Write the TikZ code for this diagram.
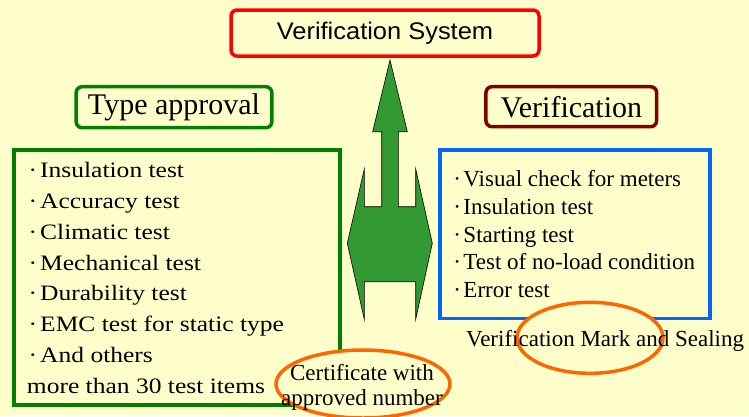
\documentclass[tikz,border=0pt]{standalone}
\usepackage{fontspec}
\setmainfont{Liberation Serif}
\newfontfamily\titlefont[FakeStretch=1.06]{Liberation Sans}
\newfontfamily\widefont[FakeStretch=1.16]{Liberation Serif}
\usetikzlibrary{shapes.geometric}
\definecolor{bg}{HTML}{FFFFCC}
\definecolor{tred}{HTML}{FF0000}
\definecolor{tgreen}{HTML}{008000}
\definecolor{tmaroon}{HTML}{800000}
\definecolor{tblue}{HTML}{0066FF}
\definecolor{torange}{HTML}{FF6600}
\definecolor{afill}{HTML}{339933}
\tikzset{
  headbox/.style={draw, line width=3.5pt, rounded corners=6pt, inner sep=0pt},
  bigbox/.style={draw, line width=3.3pt, inner sep=0pt},
  ring/.style={ellipse, draw=torange, fill=bg, line width=3.5pt, inner sep=0pt},
  litem/.style={anchor=base west, inner sep=0pt, font=\widefont\fontsize{22}{26}\selectfont},
  ritem/.style={anchor=base west, inner sep=0pt, font=\rmfamily\fontsize{23}{27}\selectfont},
  bigarrow/.style={fill=afill, draw=black, line width=0.6pt, line join=miter}
}
\begin{document}
\begin{tikzpicture}[x=1pt,y=-1pt]
\fill[bg] (0,0) rectangle (749,416);
\useasboundingbox (0,0) rectangle (749,416);

% header boxes
\node[headbox, draw=tred, minimum width=308pt, minimum height=46pt,
      font=\titlefont\fontsize{24}{28}\selectfont] (sys) at (385,33) {Verification System};
\node[headbox, draw=tgreen, minimum width=195.7pt, minimum height=41pt,
      font=\rmfamily\fontsize{30}{34}\selectfont] (ta) at (174,107.2) {Type approval};
\node[headbox, draw=tmaroon, minimum width=170.7pt, minimum height=40pt,
      font=\rmfamily\fontsize{30}{34}\selectfont] (ver) at (571.3,106.7) {Verification};

% big boxes
\node[bigbox, draw=tgreen, minimum width=326pt, minimum height=255pt] (lbox) at (177,277.5) {};
\node[bigbox, draw=tblue, minimum width=270pt, minimum height=168.3pt] (rbox) at (575,234.2) {};

% double arrow
\coordinate (tip) at (390,60);
\draw[bigarrow] (tip) -- (407.3,131.7) -- (398.3,131.7) -- (398.3,206.7) -- (415.7,206.7)
  -- (415.7,169) -- (432.3,243.3) -- (415.7,319.3) -- (415.7,281.7) -- (364.3,281.7)
  -- (364.3,319.3) -- (347.3,243.3) -- (364.3,169) -- (364.3,206.7) -- (381.7,206.7)
  -- (381.7,131.7) -- (372.7,131.7) -- cycle;

% ellipses
\node[ring, minimum width=174pt, minimum height=68pt] (certring) at (363,384) {};
\node[inner sep=0pt, align=center, font=\rmfamily\fontsize{23}{25}\selectfont]
      (cert) at (362,387.2) {Certificate with\\approved number};
\node[ring, minimum width=146pt, minimum height=71pt] (mark) at (590,337.8) {};

% left list
\foreach \t [count=\i] in {Insulation test, Accuracy test, Climatic test, Mechanical test,
    Durability test, EMC test for static type, And others}
  \node[litem] (L\i) at (40,{177.3+30.9*(\i-1)}) {\llap{·\hspace{3pt}}\t};
\node[litem] (L8) at (26.7,393.3) {more than 30 test items};

% right list
\foreach \t [count=\i] in {Visual check for meters, Insulation test, Starting test,
    Test of no-load condition, Error test}
  \node[ritem] (R\i) at (463.3,{186.7+27.65*(\i-1)}) {\llap{·\hspace{2.5pt}}\t};

\node[ritem] (marktxt) at (466,346.7) {Verification Mark and Sealing};
\end{tikzpicture}
\end{document}
